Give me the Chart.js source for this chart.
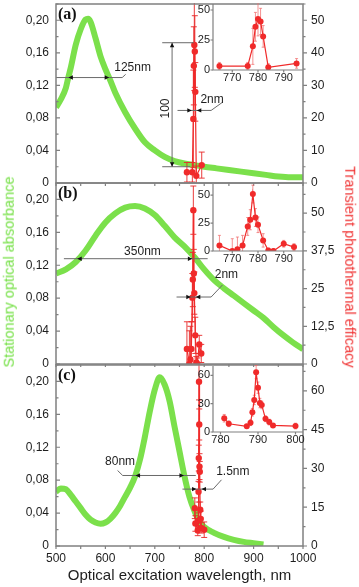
<!DOCTYPE html>
<html><head><meta charset="utf-8">
<script src="https://cdn.jsdelivr.net/npm/chart.js@4.4.1/dist/chart.umd.min.js"></script>
<style>
html,body{margin:0;padding:0;background:#fff;}
body{width:359px;height:587px;position:relative;overflow:hidden;}
canvas{position:absolute;}
.vt{position:absolute;white-space:nowrap;font:14.5px "Liberation Sans",Arial,sans-serif;line-height:1;}
</style></head><body>
<canvas id="pa" width="359" height="193" style="left:0;top:0"></canvas>
<canvas id="pb" width="359" height="197" style="left:0;top:178px"></canvas>
<canvas id="pc" width="359" height="229" style="left:0;top:358px"></canvas>
<canvas id="ia" width="140" height="92" style="left:185px;top:0"></canvas>
<canvas id="ib" width="140" height="92" style="left:185px;top:180px"></canvas>
<canvas id="ic" width="140" height="92" style="left:185px;top:362px"></canvas>
<div class="vt" style="left:9px;top:272px;color:#74e044;transform:translate(-50%,-50%) rotate(-90deg)">Stationary optical absorbance</div>
<div class="vt" style="left:350px;top:267px;color:#f03232;transform:translate(-50%,-50%) rotate(90deg)">Transient photothermal efficacy</div>
<script>
// ---------- DATA ----------
// Panel (a) stationary absorbance
const wlA  = [500,510,520,525,530,540,550,560,565,570,580,590,600,610,620,640,660,680,700,720,740,760,780,800,825,850,875,900,925,950,975,1000];
const absA = [0.093,0.103,0.117,0.130,0.142,0.170,0.189,0.201,0.202,0.198,0.178,0.156,0.140,0.126,0.111,0.087,0.067,0.050,0.040,0.032,0.027,0.024,0.022,0.020,0.018,0.016,0.014,0.012,0.010,0.008,0.007,0.007];
// Panel (b)
const wlB  = [500,520,540,560,580,600,620,640,660,680,700,720,740,760,780,800,820,840,860,880,900,920,940,960,980,1000];
const absB = [0.110,0.115,0.124,0.138,0.156,0.172,0.183,0.190,0.192,0.189,0.181,0.168,0.154,0.143,0.130,0.115,0.102,0.092,0.083,0.074,0.065,0.056,0.045,0.035,0.026,0.018];
// Panel (c)
const wlC  = [500,510,520,530,540,550,560,570,580,590,600,610,620,630,640,650,660,670,680,690,700,710,720,730,740,750,760,770,780,790,800,820,840,860,880,900,920];
const absC = [0.066,0.070,0.069,0.062,0.054,0.046,0.038,0.032,0.0285,0.027,0.0285,0.033,0.040,0.049,0.060,0.071,0.0845,0.105,0.133,0.164,0.190,0.205,0.196,0.176,0.145,0.115,0.085,0.060,0.043,0.030,0.023,0.016,0.011,0.0075,0.005,0.0035,0.002];
// Transient photothermal efficacy (red) with error bars
const redWlA  = [765,776,778,779,780,781,782,784,795];
const redValA = [3.3,3.3,19.7,36,42.4,40.4,28,2.2,5.5];
const redErrA = [3,3,15,12,14,11,9,3,4];
const redWlB  = [765,770,772,774,776,777,778,779,780,782,784,786,790,794];
const redValB = [5,0,1.5,5,22,28,51,30,23.5,9.5,0.5,0,6.5,3.5];
const redErrB = [9,11,11,9,8,9,8,8,7,6,2,2,3,3];
const redWlC  = [781,782.2,787,788,788.5,789,789.5,790,790.5,791,792,793,794,800];
const redValC = [14.6,8.7,6,9.8,21,34,63.5,47,30.7,28.7,14,10.5,7,6.3];
const redErrC = [4,3,2,3,4,5,7,6,5,4,3,3,2,3];

// ---------- STYLE ----------
const FONT = '"Liberation Sans", Arial, sans-serif';
const GREEN = '#7be04b', RED = '#f02a2a', AXIS = '#808080', ANN = '#6a6a6a', TXT = '#1e1e1e';

function fmtStep(step, every, fmt){
  return v => { const k = Math.round(v/step); if (Math.abs(v-k*step) > 1e-6*step || k % every) return ''; return fmt(k*step); };
}
const fmtL = fmtStep(0.02, 2, v => v===0 ? '0' : v.toFixed(2).replace('.', ','));
const fmtNum = v => String(+v.toFixed(3)).replace('.', ',');

const errPlugin = {
  id:'errbars',
  beforeDatasetDraw(chart, args){
    const ds = chart.data.datasets[args.index];
    if (!ds.errs) return;
    const ys = chart.scales[ds.yAxisID], a = chart.chartArea, ctx = chart.ctx;
    ctx.save();
    ctx.beginPath(); ctx.rect(a.left, a.top-1, a.right-a.left, a.bottom-a.top+1); ctx.clip();
    ctx.strokeStyle = ds.errColor; ctx.lineWidth = 1;
    args.meta.data.forEach((pt,i)=>{
      const v = ds.data[i].y, e = ds.errs[i];
      const y1 = ys.getPixelForValue(v+e), y2 = ys.getPixelForValue(v-e), x = pt.x, w = ds.capW;
      ctx.beginPath();
      ctx.moveTo(x,y1); ctx.lineTo(x,y2);
      ctx.moveTo(x-w,y1); ctx.lineTo(x+w,y1);
      ctx.moveTo(x-w,y2); ctx.lineTo(x+w,y2);
      ctx.stroke();
    });
    ctx.restore();
  }
};

function arrow(ctx,x,y,dir){
  const L=4.5, W=2.2;
  ctx.beginPath();
  if(dir==='l'){ctx.moveTo(x,y);ctx.lineTo(x+L,y-W);ctx.lineTo(x+L,y+W);}
  if(dir==='r'){ctx.moveTo(x,y);ctx.lineTo(x-L,y-W);ctx.lineTo(x-L,y+W);}
  if(dir==='u'){ctx.moveTo(x,y);ctx.lineTo(x-W,y+L);ctx.lineTo(x+W,y+L);}
  if(dir==='d'){ctx.moveTo(x,y);ctx.lineTo(x-W,y-L);ctx.lineTo(x+W,y-L);}
  ctx.closePath(); ctx.fill();
}
function poly(ctx, pts){ ctx.beginPath(); pts.forEach((p,i)=> i?ctx.lineTo(p[0],p[1]):ctx.moveTo(p[0],p[1])); ctx.stroke(); }
function label(ctx, t, x, y, rot){
  ctx.save(); ctx.translate(x,y); if(rot) ctx.rotate(rot);
  ctx.fillStyle = TXT; ctx.font = '12px '+FONT; ctx.textAlign='center'; ctx.textBaseline='middle';
  ctx.fillText(t,0,0); ctx.restore();
}

function scaleTicks(scale){
  return scale.ticks.map(t=>({p:scale.getPixelForValue(t.value), major: !!t.label}));
}

function mainFrame(o){
  return {
    id:'mainFrame',
    afterDatasetsDraw(chart){
      const ctx = chart.ctx, s = chart.scales;
      const X = v=>s.x.getPixelForValue(v), YL = v=>s.yL.getPixelForValue(v), YR = v=>s.yR.getPixelForValue(v);
      ctx.save();
      ctx.strokeStyle = ANN; ctx.fillStyle = '#111'; ctx.lineWidth = 1;
      o.ann(ctx, X, YL, YR);
      ctx.restore();
    },
    afterDraw(chart){
      const ctx = chart.ctx, a = chart.chartArea, s = chart.scales;
      ctx.save();
      ctx.strokeStyle = AXIS; ctx.lineWidth = 1.5;
      ctx.strokeRect(a.left, a.top, a.right-a.left, a.bottom-a.top);
      ctx.lineWidth = 1.2;
      ctx.beginPath();
      scaleTicks(s.yL).forEach(t=>{ ctx.moveTo(a.left, t.p); ctx.lineTo(a.left+(t.major?4:2.5), t.p); });
      scaleTicks(s.yR).forEach(t=>{ ctx.moveTo(a.right, t.p); ctx.lineTo(a.right+(t.major?4:2.5), t.p); });
      scaleTicks(s.x).forEach(t=>{ ctx.moveTo(t.p, a.bottom); ctx.lineTo(t.p, a.bottom+3); });
      ctx.stroke();
      ctx.fillStyle = '#111'; ctx.font = 'bold 16px "Liberation Serif", "Times New Roman", serif';
      ctx.textAlign='left'; ctx.textBaseline='middle';
      ctx.fillText(o.letter, a.left+2, a.top+10.5);
      ctx.restore();
    }
  };
}

function mainPanel(id, o){
  const fixY = w => s => { s.width = w; s.paddingTop = 0; s.paddingBottom = 0; };
  return new Chart(document.getElementById(id), {
    type:'line',
    data:{datasets:[
      {data:o.redWl.map((x,i)=>({x, y:o.redVal[i]})), yAxisID:'yR', borderColor:RED, backgroundColor:RED,
       pointBackgroundColor:RED, pointRadius:3.2, pointBorderWidth:0, borderWidth:1.2, tension:0,
       errs:o.redErr, errColor:'rgba(232,40,40,0.9)', capW:3},
      {data:o.wl.map((x,i)=>({x, y:o.abs[i]})), yAxisID:'yL', borderColor:GREEN, borderWidth:6,
       pointRadius:0, cubicInterpolationMode:'monotone', borderCapStyle:'butt'}
    ]},
    options:{
      responsive:false, animation:false, events:[],
      layout:{padding:{top:o.padTop, left:0, right:0, bottom:0}},
      plugins:{legend:{display:false}, tooltip:{enabled:false}},
      scales:{
        x:{type:'linear', min:500, max:1000, grid:{display:false, drawTicks:false}, border:{display:false},
           ticks:{stepSize:50, autoSkip:false, maxRotation:0, includeBounds:false, display:o.showX, padding:5, color:TXT,
                  font:{size:12, family:FONT}, callback:v=> v%100===0 ? String(v) : ''},
           title:{display:o.showX, text:'Optical excitation wavelength, nm', color:TXT, font:{size:15, family:FONT}, padding:{top:0,bottom:2}},
           afterFit:s=>{ s.height = o.xH; s.paddingLeft = 0; s.paddingRight = 0; }},
        yL:{type:'linear', position:'left', min:0, max:0.22, grid:{display:false, drawTicks:false}, border:{display:false},
            ticks:{stepSize:0.02, autoSkip:false, includeBounds:false, padding:7, color:TXT, font:{size:12, family:FONT}, callback:fmtL},
            afterFit:fixY(56)},
        yR:{type:'linear', position:'right', min:0, max:o.rMax, grid:{display:false, drawTicks:false}, border:{display:false},
            ticks:{stepSize:o.rStep, autoSkip:false, includeBounds:false, padding:8, color:TXT, font:{size:12, family:FONT},
                   callback:fmtStep(o.rStep, 2, fmtNum)},
            afterFit:fixY(56)}
      }
    },
    plugins:[errPlugin, mainFrame(o)]
  });
}

const insetFrame = {
  id:'insetFrame',
  afterDraw(chart){
    const ctx = chart.ctx, a = chart.chartArea, s = chart.scales;
    ctx.save();
    ctx.strokeStyle = AXIS; ctx.lineWidth = 1.2;
    ctx.beginPath(); ctx.moveTo(a.left, a.top); ctx.lineTo(a.left, a.bottom); ctx.lineTo(a.right, a.bottom); ctx.stroke();
    ctx.beginPath();
    scaleTicks(s.y).forEach(t=>{ ctx.moveTo(a.left, t.p); ctx.lineTo(a.left-2.5, t.p); });
    scaleTicks(s.x).forEach(t=>{ ctx.moveTo(t.p, a.bottom); ctx.lineTo(t.p, a.bottom+2.5); });
    ctx.stroke();
    ctx.restore();
  }
};

function insetPanel(id, o){
  return new Chart(document.getElementById(id), {
    type:'line',
    data:{datasets:[
      {data:o.redWl.map((x,i)=>({x, y:o.redVal[i]})), yAxisID:'y', borderColor:RED, backgroundColor:RED,
       pointBackgroundColor:RED, pointRadius:3, pointBorderWidth:0, borderWidth:1.2, tension:0,
       errs:o.redErr, errColor:'rgba(240,110,110,0.75)', capW:1.5}
    ]},
    options:{
      responsive:false, animation:false, events:[],
      layout:{padding:{top:o.padTop, left:0, right:22, bottom:0}},
      plugins:{legend:{display:false}, tooltip:{enabled:false}},
      scales:{
        x:{type:'linear', min:o.xMin, max:o.xMax, grid:{display:false, drawTicks:false}, border:{display:false},
           ticks:{stepSize:10, autoSkip:false, maxRotation:0, includeBounds:false, padding:1, color:TXT, font:{size:11, family:FONT}},
           afterFit:s=>{ s.height = o.xH; s.paddingLeft = 0; s.paddingRight = 0; }},
        y:{type:'linear', position:'left', min:0, max:o.yMax, grid:{display:false, drawTicks:false}, border:{display:false},
           ticks:{stepSize:o.yStep, autoSkip:false, includeBounds:false, padding:3, color:TXT, font:{size:11, family:FONT}},
           afterFit:s=>{ s.width = 28; s.paddingTop = 0; s.paddingBottom = 0; }}
      }
    },
    plugins:[errPlugin, insetFrame]
  });
}

// ---------- PANELS ----------
mainPanel('pa', {letter:'(a)', wl:wlA, abs:absA, redWl:redWlA, redVal:redValA, redErr:redErrA,
  rMax:55, rStep:5, padTop:2, xH:10, showX:false,
  ann:(c,X,YL,YR)=>{
    poly(c,[[X(500),YL(0.1296)],[X(634),YL(0.1296)],[X(641),YL(0.1335)]]);
    arrow(c,X(525),YL(0.1296),'l'); arrow(c,X(607.5),YL(0.1296),'r');
    label(c,'125nm',X(655),YL(0.1423));
    poly(c,[[X(715),YR(43.1)],[X(779),YR(43.1)]]);
    poly(c,[[X(715),YR(5)],[X(772),YR(5)]]);
    poly(c,[[X(735),YR(43.1)],[X(735),YR(5)]]);
    arrow(c,X(735),YR(43.1),'u'); arrow(c,X(735),YR(5),'d');
    label(c,'100',X(723),YR(22.9),-Math.PI/2);
    poly(c,[[X(746),YR(22.3)],[X(814),YR(22.3)],[X(837),YR(24.8)]]);
    arrow(c,X(780)-2.5,YR(22.3),'r'); arrow(c,X(780)+2.5,YR(22.3),'l');
    label(c,'2nm',X(816),YR(25.5));
  }});
mainPanel('pb', {letter:'(b)', wl:wlB, abs:absB, redWl:redWlB, redVal:redValB, redErr:redErrB,
  rMax:60, rStep:6.25, padTop:5, xH:11, showX:false,
  ann:(c,X,YL,YR)=>{
    poly(c,[[X(516),YL(0.128)],[X(807),YL(0.128)]]);
    arrow(c,X(543),YL(0.128),'l'); arrow(c,X(776),YL(0.128),'r');
    label(c,'350nm',X(675),YL(0.137));
    poly(c,[[X(744),YR(22.2)],[X(814),YR(22.2)],[X(837),YR(26.2)]]);
    arrow(c,X(778)-2.5,YR(22.2),'r'); arrow(c,X(778)+2.5,YR(22.2),'l');
    label(c,'2nm',X(845),YR(29.6));
  }});
mainPanel('pc', {letter:'(c)', wl:wlC, abs:absC, redWl:redWlC, redVal:redValC, redErr:redErrC,
  rMax:70, rStep:7.5, padTop:7, xH:41, showX:true,
  ann:(c,X,YL,YR)=>{
    poly(c,[[X(624.6),YL(0.0918)],[X(635),YL(0.0857)],[X(783),YL(0.0857)]]);
    arrow(c,X(661),YL(0.0857),'l'); arrow(c,X(759),YL(0.0857),'r');
    label(c,'80nm',X(629.7),YL(0.1028));
    poly(c,[[X(756),YR(22)],[X(818),YR(22)],[X(835),YR(25.6)]]);
    arrow(c,X(789.5)-2.5,YR(22),'r'); arrow(c,X(789.5)+2.5,YR(22),'l');
    label(c,'1.5nm',X(858),YR(28.8));
  }});

insetPanel('ia', {redWl:redWlA, redVal:redValA, redErr:redErrA, xMin:762.5, xMax:797.5, yMax:55, yStep:25, padTop:2, xH:22});
insetPanel('ib', {redWl:redWlB, redVal:redValB, redErr:redErrB, xMin:762.5, xMax:797.5, yMax:60, yStep:25, padTop:3, xH:21});
insetPanel('ic', {redWl:redWlC, redVal:redValC, redErr:redErrC, xMin:778, xMax:802, yMax:70, yStep:30, padTop:3, xH:22});
</script>
</body></html>
